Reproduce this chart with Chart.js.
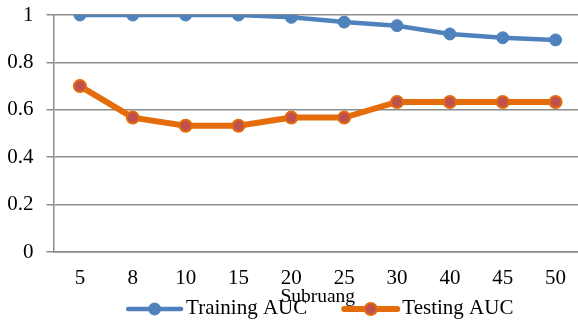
<!DOCTYPE html>
<html>
<head>
<meta charset="utf-8">
<script src="https://cdn.jsdelivr.net/npm/chart.js@4/dist/chart.umd.min.js"></script>
<style>
  html, body { margin: 0; padding: 0; background: #fff; overflow: hidden; }
  #contenedor { width: 590px; height: 321px; }
</style>
</head>
<body>
<div id="contenedor"><canvas id="grafico-auc" width="590" height="321"></canvas></div>
<script>
// Datos: número de subruang y AUC de entrenamiento / prueba
const subruang = ['5', '8', '10', '15', '20', '25', '30', '40', '45', '50'];
const trainingAuc = [1, 1, 1, 1, 0.99, 0.97, 0.955, 0.92, 0.904, 0.895];
const testingAuc = [0.7, 0.567, 0.533, 0.533, 0.567, 0.567, 0.633, 0.633, 0.633, 0.633];
const etiquetasY = ['0', '0.2', '0.4', '0.6', '0.8', '1'];

const fuente = '"Liberation Serif", "Times New Roman", serif';
const gris = '#8c8c8c';

// Leyenda estilo Excel: línea con marcador y texto
const leyendaLineas = {
    id: 'leyendaLineas',
    afterDraw(chart) {
        const ctx = chart.ctx;
        const area = chart.chartArea;
        const y = 309;
        const largoLinea = 57;
        const separacion = 3;
        const entreItems = 35;
        ctx.save();
        ctx.font = '21px ' + fuente;
        const items = chart.data.datasets.map(ds => ({ ds, ancho: ctx.measureText(ds.label).width }));
        const total = items.reduce((s, it) => s + largoLinea + separacion + it.ancho, 0) + entreItems * (items.length - 1);
        let x = (area.left + area.right) / 2 - total / 2 + 2;
        items.forEach(({ ds, ancho }) => {
            ctx.strokeStyle = ds.borderColor;
            ctx.lineWidth = ds.borderWidth;
            ctx.lineCap = 'round';
            ctx.beginPath();
            ctx.moveTo(x + 2, y);
            ctx.lineTo(x + largoLinea - 2, y);
            ctx.stroke();

            ctx.beginPath();
            ctx.arc(x + largoLinea / 2, y, ds.pointRadius, 0, Math.PI * 2);
            ctx.fillStyle = ds.pointBackgroundColor;
            ctx.fill();
            ctx.lineWidth = ds.pointBorderWidth;
            ctx.strokeStyle = ds.pointBorderColor;
            ctx.stroke();

            ctx.fillStyle = '#000';
            ctx.textAlign = 'left';
            ctx.textBaseline = 'middle';
            ctx.fillText(ds.label, x + largoLinea + separacion, y - 1);
            x += largoLinea + separacion + ancho + entreItems;
        });
        ctx.restore();
    }
};

const canvas = document.getElementById('grafico-auc');

const graficoAuc = new Chart(canvas, {
    type: 'line',
    data: {
        labels: subruang,
        datasets: [{
            label: 'Training AUC',
            data: trainingAuc,
            borderColor: '#4F81BD',
            borderWidth: 4.5,
            pointRadius: 6,
            pointBackgroundColor: '#4F81BD',
            pointBorderColor: '#4F81BD',
            pointBorderWidth: 1,
            tension: 0
        }, {
            label: 'Testing AUC',
            data: testingAuc,
            borderColor: '#E46C0A',
            borderWidth: 6,
            pointRadius: 6,
            pointBackgroundColor: '#C0504D',
            pointBorderColor: '#E46C0A',
            pointBorderWidth: 2,
            tension: 0
        }]
    },
    options: {
        responsive: false,
        animation: false,
        layout: {
            padding: { left: 7.5, right: 6.7, top: 15, bottom: 14 }
        },
        plugins: {
            legend: { display: false },
            tooltip: { enabled: false }
        },
        scales: {
            x: {
                offset: true,
                grid: { display: false, drawTicks: false },
                border: { display: true, color: gris, width: 1.5 },
                ticks: {
                    color: '#000',
                    font: { family: fuente, size: 21, lineHeight: 1 },
                    padding: 16
                },
                title: {
                    display: true,
                    text: 'Subruang',
                    color: '#000',
                    font: { family: fuente, size: 19.5, lineHeight: 1 },
                    padding: 0
                },
                // alto fijo: el título queda pegado a las etiquetas
                afterFit: (escala) => {
                    escala.height = 55;
                    escala.paddingLeft = 0;
                    escala.paddingRight = 0;
                }
            },
            y: {
                min: 0,
                max: 1,
                ticks: {
                    stepSize: 0.2,
                    color: '#000',
                    font: { family: fuente, size: 21 },
                    padding: 13,
                    callback: (valor, i) => etiquetasY[i]
                },
                grid: { color: gris, lineWidth: 1.5, tickLength: 7 },
                border: { display: true, color: gris, width: 1.5 },
                afterFit: (escala) => {
                    escala.width = 46;
                    escala.paddingTop = 0;
                    escala.paddingBottom = 0;
                }
            }
        }
    },
    plugins: [leyendaLineas]
});
</script>
</body>
</html>
